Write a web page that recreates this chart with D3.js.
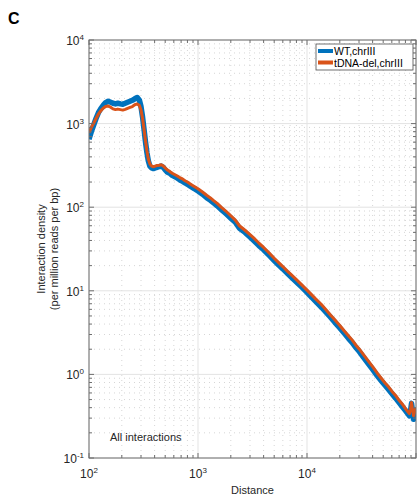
<!DOCTYPE html>
<html><head><meta charset="utf-8">
<script src="https://cdn.jsdelivr.net/npm/d3@7"></script>
<style>body{margin:0;background:#fff;} text{font-family:"Liberation Sans",Arial,sans-serif;}</style>
</head><body>
<svg id="c" width="417" height="498"></svg>
<script>
const distance = [100,105,110,116,122,128,135,142,150,158,166,175,184,194,204,215,226,238,250,263,277,290,300,310,320,330,340,350,362,375,390,405,420,440,460,480,500,525,550,580,610,640,680,720,760,800,850,900,950,1000,1100,1200,1300,1400,1500,1650,1800,2000,2200,2400,2700,3000,3300,3600,4000,4500,5000,5500,6000,6600,7200,8000,9000,10000,11000,12000,13500,15000,16500,18000,20000,22000,24000,26000,28000,30000,33000,36000,40000,44000,48000,52000,56000,60000,65000,70000,75000,80000,84000,87000,89000,91000,93000,95000,97000,100000];
const wtChrIII = [650,800,950,1150,1350,1500,1650,1780,1850,1800,1750,1720,1750,1720,1700,1750,1800,1850,1900,1980,2050,1900,1600,1200,850,600,450,360,310,295,290,295,300,305,310,300,280,262,255,240,232,225,212,205,195,188,178,170,163,156,143,130,121,112,104,93,84,74,66,56,50,44,39,35,31,26.5,23,20.3,18.3,16.2,14.5,12.7,11.0,9.6,8.4,7.5,6.4,5.5,4.8,4.2,3.6,3.1,2.7,2.4,2.1,1.9,1.6,1.38,1.15,0.97,0.84,0.74,0.66,0.59,0.52,0.46,0.41,0.37,0.34,0.32,0.36,0.45,0.36,0.29,0.33,0.38];
const delChrIII = [780,900,1000,1150,1300,1420,1530,1600,1620,1570,1500,1470,1490,1470,1450,1480,1520,1560,1600,1680,1720,1650,1450,1150,850,620,470,380,330,310,305,310,315,318,322,312,295,278,268,255,246,238,226,218,207,200,190,181,173,166,152,139,129,119,111,99,90,79,70,60,53,47,42,37.5,33,28.3,24.5,21.7,19.5,17.2,15.5,13.6,11.7,10.2,9.0,8.0,6.9,5.9,5.1,4.5,3.85,3.3,2.9,2.57,2.25,2.03,1.72,1.48,1.24,1.04,0.9,0.79,0.71,0.63,0.56,0.49,0.44,0.39,0.36,0.34,0.38,0.46,0.38,0.32,0.35,0.4];
const seriesNames = ["WT,chrIII","tDNA-del,chrIII"];
const seriesColors = ["#0072BD","#D95319"];
const xTickExps = [2,3,4];
const yTickExps = [-1,0,1,2,3,4];

const svg = d3.select("#c");
const L=89, R=416, T=40, B=458;
const x = d3.scaleLog().domain([100,100000]).range([L,R]);
const y = d3.scaleLog().domain([0.1,10000]).range([B,T]);

const xMinor=[], yMinor=[];
for(let e=2;e<5;e++) for(let m=2;m<=9;m++) xMinor.push(m*Math.pow(10,e));
for(let e=-1;e<4;e++) for(let m=2;m<=9;m++) yMinor.push(m*Math.pow(10,e));
const xMajor = xTickExps.map(e=>Math.pow(10,e)).concat([100000]);
const yMajor = yTickExps.map(e=>Math.pow(10,e));

const g = svg.append("g");
g.selectAll(".xmg").data(xMinor).enter().append("line")
 .attr("x1",d=>x(d)).attr("x2",d=>x(d)).attr("y1",T).attr("y2",B)
 .attr("stroke","#d6d6d6").attr("stroke-width",1).attr("stroke-dasharray","1,4");
g.selectAll(".ymg").data(yMinor).enter().append("line")
 .attr("x1",L).attr("x2",R).attr("y1",d=>y(d)).attr("y2",d=>y(d))
 .attr("stroke","#d6d6d6").attr("stroke-width",1).attr("stroke-dasharray","1,4");
g.selectAll(".xMg").data(xMajor).enter().append("line")
 .attr("x1",d=>x(d)).attr("x2",d=>x(d)).attr("y1",T).attr("y2",B)
 .attr("stroke","#e3e3e3").attr("stroke-width",1);
g.selectAll(".yMg").data(yMajor).enter().append("line")
 .attr("x1",L).attr("x2",R).attr("y1",d=>y(d)).attr("y2",d=>y(d))
 .attr("stroke","#e3e3e3").attr("stroke-width",1);

svg.append("clipPath").attr("id","clp").append("rect").attr("x",L).attr("y",T).attr("width",R-L).attr("height",B-T);
const line = d3.line().x(d=>x(d[0])).y(d=>y(d[1]));
const lg = svg.append("g").attr("clip-path","url(#clp)");
lg.append("path").datum(distance.map((d,i)=>[d,wtChrIII[i]]))
 .attr("d",line).attr("fill","none").attr("stroke",seriesColors[0]).attr("stroke-width",5.5).attr("stroke-linejoin","round");
lg.append("path").datum(distance.map((d,i)=>[d,delChrIII[i]]))
 .attr("d",line).attr("fill","none").attr("stroke",seriesColors[1]).attr("stroke-width",3).attr("stroke-linejoin","round");

const ax = "#6e6e6e";
svg.append("rect").attr("x",L).attr("y",T).attr("width",R-L).attr("height",B-T).attr("fill","none").attr("stroke",ax).attr("stroke-width",1);
const tk = svg.append("g").attr("stroke",ax).attr("stroke-width",1);
xMajor.forEach(v=>{tk.append("line").attr("x1",x(v)).attr("x2",x(v)).attr("y1",B).attr("y2",B-5);
 tk.append("line").attr("x1",x(v)).attr("x2",x(v)).attr("y1",T).attr("y2",T+5);});
xMinor.forEach(v=>{tk.append("line").attr("x1",x(v)).attr("x2",x(v)).attr("y1",B).attr("y2",B-3);
 tk.append("line").attr("x1",x(v)).attr("x2",x(v)).attr("y1",T).attr("y2",T+3);});
yMajor.forEach(v=>{tk.append("line").attr("x1",L).attr("x2",L+5).attr("y1",y(v)).attr("y2",y(v));
 tk.append("line").attr("x1",R).attr("x2",R-5).attr("y1",y(v)).attr("y2",y(v));});
yMinor.forEach(v=>{tk.append("line").attr("x1",L).attr("x2",L+3).attr("y1",y(v)).attr("y2",y(v));
 tk.append("line").attr("x1",R).attr("x2",R-3).attr("y1",y(v)).attr("y2",y(v));});

const tc="#262626";
xTickExps.forEach(e=>{
 const t=svg.append("text").attr("x",x(Math.pow(10,e))).attr("y",478).attr("text-anchor","middle").attr("font-size",12).attr("fill",tc);
 t.append("tspan").text("10");
 t.append("tspan").attr("dy",-5).attr("font-size",8).text(String(e));
});
yTickExps.forEach(e=>{
 const t=svg.append("text").attr("x",84).attr("y",y(Math.pow(10,e))+5).attr("text-anchor","end").attr("font-size",12).attr("fill",tc);
 t.append("tspan").text("10");
 t.append("tspan").attr("dy",-5).attr("font-size",8).text(e<0?"-"+(-e):String(e));
});

svg.append("text").attr("x",(L+R)/2).attr("y",494).attr("text-anchor","middle").attr("font-size",11).attr("fill",tc).text("Distance");
svg.append("text").attr("transform","translate(45,249) rotate(-90)").attr("text-anchor","middle").attr("font-size",11).attr("fill",tc).text("Interaction density");
svg.append("text").attr("transform","translate(58,249) rotate(-90)").attr("text-anchor","middle").attr("font-size",11).attr("fill",tc).text("(per million reads per bp)");

svg.append("text").attr("x",110).attr("y",441).attr("font-size",11).attr("fill",tc).text("All interactions");
svg.append("text").attr("x",8).attr("y",24).attr("font-size",16).attr("font-weight","bold").attr("fill","#000").text("C");

const lgx=316, lgy=44, lgw=97, lgh=26;
svg.append("rect").attr("x",lgx).attr("y",lgy).attr("width",lgw).attr("height",lgh).attr("fill","#fff").attr("stroke","#4d4d4d").attr("stroke-width",0.8);
seriesNames.forEach((n,i)=>{
 const yy=lgy+7+i*11.5;
 svg.append("line").attr("x1",lgx+2).attr("x2",lgx+17).attr("y1",yy).attr("y2",yy).attr("stroke",seriesColors[i]).attr("stroke-width",4);
 svg.append("text").attr("x",lgx+18).attr("y",yy+4).attr("font-size",10.5).attr("fill","#000").text(n);
});
</script>
</body></html>
